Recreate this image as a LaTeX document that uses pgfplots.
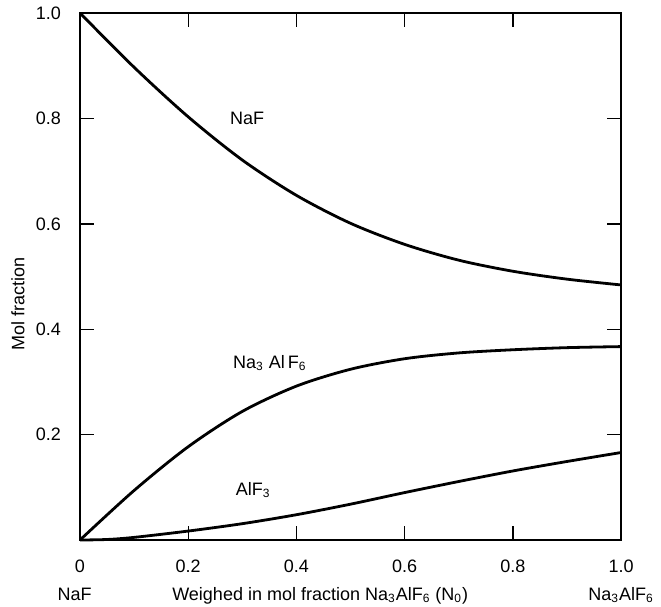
\documentclass[border=0pt]{standalone}
\usepackage{fontspec}
\setmainfont{Liberation Sans}
\usepackage{pgfplots}
\pgfplotsset{compat=1.18}

\begin{document}
\begin{tikzpicture}
  \begin{axis}[
      scale only axis,
      width=270.5pt, height=263.5pt,
      xmin=0, xmax=1, ymin=0, ymax=1,
      axis line style={line width=0.8pt},
      tick style={black, line width=0.7pt},
      tick align=inside,
      major tick length=7pt,
      xtick={0,0.2,0.4,0.6,0.8,1.0},
      xticklabels={0,0.2,0.4,0.6,0.8,1.0},
      ytick={0.2,0.4,0.6,0.8,1.0},
      yticklabels={0.2,0.4,0.6,0.8,1.0},
      /pgf/number format/assume math mode=true,
      tick label style={font=\fontsize{9}{11}\selectfont},
      xticklabel style={anchor=base, yshift=-16pt},
      yticklabel style={anchor=east, xshift=-6pt},
      clip=false,
    ]
    % NaF
    \addplot[black, line width=1.4pt, smooth] coordinates {
        (0,1.0) (0.1,0.897) (0.2,0.803) (0.3,0.721) (0.4,0.654) (0.5,0.601)
        (0.6,0.561) (0.7,0.531) (0.8,0.51) (0.9,0.495) (1.0,0.484)
      };
    % Na3AlF6
    \addplot[black, line width=1.4pt, smooth] coordinates {
        (0,0) (0.1,0.094) (0.2,0.177) (0.3,0.244) (0.4,0.292) (0.5,0.324)
        (0.6,0.344) (0.7,0.355) (0.8,0.361) (0.9,0.365) (1.0,0.367)
      };
    % AlF3
    \addplot[black, line width=1.4pt, smooth] coordinates {
        (0,0) (0.05,0.001) (0.1,0.005) (0.2,0.017) (0.3,0.031) (0.4,0.048)
        (0.5,0.068) (0.6,0.09) (0.7,0.111) (0.8,0.131) (0.9,0.149) (1.0,0.166)
      };

    \node[font=\fontsize{9}{11}\selectfont] at (axis cs:0.309,0.80) {NaF};
    \node[font=\fontsize{9}{11}\selectfont] at (axis cs:0.351,0.336) {Na\textsubscript{3} Al\,F\textsubscript{6}};
    \node[font=\fontsize{9}{11}\selectfont] at (axis cs:0.32,0.095) {AlF\textsubscript{3}};

    \node[font=\fontsize{9}{11}\selectfont, rotate=90] at ([xshift=-31pt]rel axis cs:0,0.448) {Mol fraction};
    \node[font=\fontsize{9}{11}\selectfont, anchor=base] at ([yshift=-30pt]axis cs:-0.01,0) {NaF};
    \node[font=\fontsize{9}{11}\selectfont, anchor=base] at ([yshift=-30pt]axis cs:0.444,0) {Weighed in mol fraction Na\textsubscript{3}AlF\textsubscript{6} (N\textsubscript{0})};
    \node[font=\fontsize{9}{11}\selectfont, anchor=base] at ([yshift=-30pt]axis cs:1.0,0) {Na\textsubscript{3}AlF\textsubscript{6}};
  \end{axis}
  \pgfresetboundingbox
  \path[use as bounding box] ([xshift=-40pt,yshift=-33pt]current axis.south west)
    rectangle ([xshift=20pt,yshift=6.5pt]current axis.north east);
\end{tikzpicture}
\end{document}
